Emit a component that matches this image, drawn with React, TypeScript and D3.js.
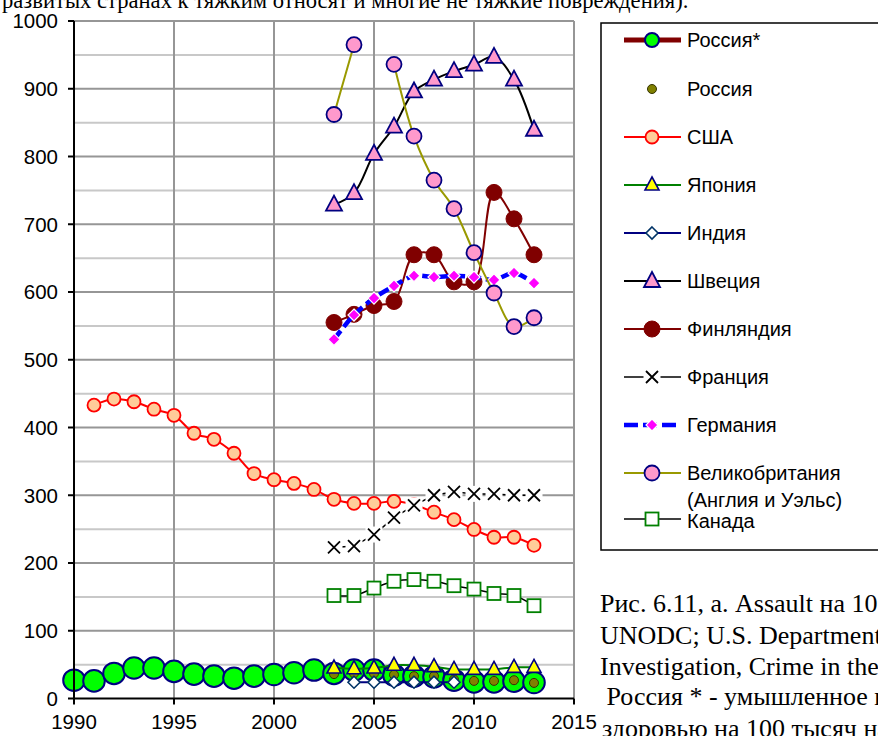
import React from "react";
import * as d3 from "d3";

const xTicks = [1990, 1995, 2000, 2005, 2010, 2015];
const yTicks = [0, 100, 200, 300, 400, 500, 600, 700, 800, 900, 1000];

const russiaStarYears = d3.range(1990, 2014);
const russiaStar = [27, 26, 37, 45, 45, 40, 36, 33, 30, 33, 35.5, 38, 42, 37, 42, 42, 34.5, 33, 32, 27, 24.6, 24.6, 25.6, 23.6];

const russiaYears = d3.range(2003, 2014);
const russia = [36, 37, 37, 35, 33, 33, 28, 26, 26, 27, 23];

const usaYears = d3.range(1991, 2014);
const usa = [433, 442, 438, 427, 418, 391.5, 382.5, 362, 332, 323, 317.5, 308.6, 294, 288, 288, 291, 286, 275, 264, 249.5, 238, 238, 226];

const japanYears = d3.range(2003, 2014);
const japan = [45, 44, 45, 49, 49, 47, 43, 43, 43, 46, 46];

const indiaYears = d3.range(2004, 2010);
const india = [24, 24, 24, 24, 24, 24];

const swedenYears = d3.range(2003, 2014);
const sweden = [729, 746, 804, 844, 896, 913.5, 926, 935.5, 947, 913.5, 839.5];

const finlandYears = d3.range(2003, 2014);
const finland = [555, 567, 580, 586, 655, 655, 615, 615, 747, 708, 655];

const franceYears = d3.range(2003, 2014);
const france = [223, 225, 242, 267, 285, 300, 305, 302, 302, 300, 300];

const germanyYears = d3.range(2003, 2014);
const germany = [530, 566, 591, 609, 624, 622, 624, 622, 618, 628, 613];

const ukYears = d3.range(2003, 2014);
const uk: (number | null)[] = [862, 965, null, 936, 830, 765, 723, 658, 598.5, 549, 562];

const canadaYears = d3.range(2003, 2014);
const canada = [152, 152, 163, 173, 175.5, 173, 166.5, 161.5, 155, 152, 137];

const legendLabels = ["Россия*", "Россия", "США", "Япония", "Индия", "Швеция", "Финляндия", "Франция", "Германия", "Великобритания", "Канада"];

const topText = "развитых странах к тяжким относят и многие не тяжкие повреждения).";
const captionLines = [
  "Рис. 6.11, а. Assault на 100 тысяч населения. Источники:",
  "UNODC; U.S. Department of Justice — Federal Bureau of",
  "Investigation, Crime in the United States",
  " Россия * - умышленное причинение тяжкого вреда",
  "здоровью на 100 тысяч населения",
];

const x = d3.scaleLinear().domain([1990, 2015]).range([74, 574]);
const y = d3.scaleLinear().domain([0, 1000]).range([698.5, 21]);

type Pt = [number, number | null];
const zip = (ys: number[], vs: (number | null)[]): Pt[] => ys.map((yr, i) => [yr, vs[i]]);

const lineGen = d3
  .line<Pt>()
  .defined((d) => d[1] !== null)
  .x((d) => x(d[0]))
  .y((d) => y(d[1] as number))
  .curve(d3.curveCatmullRom.alpha(0.5));

const straight = d3
  .line<Pt>()
  .defined((d) => d[1] !== null)
  .x((d) => x(d[0]))
  .y((d) => y(d[1] as number));

type MarkerKind = "bigcircle" | "dot" | "circleUSA" | "triY" | "diamondW" | "triP" | "circleF" | "cross" | "diamondM" | "circleUK" | "square";

function Marker({ kind, cx, cy, legend }: { kind: MarkerKind; cx: number; cy: number; legend?: boolean }) {
  switch (kind) {
    case "bigcircle":
      return <circle cx={cx} cy={cy} r={legend ? 7 : 10.8} fill="#00FF00" stroke="#000080" strokeWidth={2} />;
    case "dot":
      return <circle cx={cx} cy={cy} r={4.5} fill="#808000" stroke="#333300" strokeWidth={1} />;
    case "circleUSA":
      return <circle cx={cx} cy={cy} r={6.5} fill="#FFCC99" stroke="#FF0000" strokeWidth={1.8} />;
    case "triY":
      return (
        <path
          d={`M${cx},${cy - 8} L${cx + 7},${cy + 5} L${cx - 7},${cy + 5} Z`}
          fill="#FFFF00"
          stroke="#000080"
          strokeWidth={1.6}
        />
      );
    case "diamondW":
      return (
        <path
          d={`M${cx},${cy - 6} L${cx + 6},${cy} L${cx},${cy + 6} L${cx - 6},${cy} Z`}
          fill="#FFFFFF"
          stroke="#003366"
          strokeWidth={1.6}
        />
      );
    case "triP":
      return (
        <path
          d={`M${cx},${cy - 9} L${cx + 8},${cy + 6} L${cx - 8},${cy + 6} Z`}
          fill="#FF99CC"
          stroke="#000080"
          strokeWidth={1.8}
        />
      );
    case "circleF":
      return <circle cx={cx} cy={cy} r={8} fill="#800000" stroke="#800000" strokeWidth={1} />;
    case "cross":
      return (
        <g>
          <rect x={cx - 8.5} y={cy - 8} width={17} height={16} fill="#FFFFFF" />
          <path d={`M${cx - 6},${cy - 6} L${cx + 6},${cy + 6} M${cx + 6},${cy - 6} L${cx - 6},${cy + 6}`} stroke="#000000" strokeWidth={1.8} />
        </g>
      );
    case "diamondM":
      return (
        <path
          d={`M${cx},${cy - 6} L${cx + 6},${cy} L${cx},${cy + 6} L${cx - 6},${cy} Z`}
          fill="#FF00FF"
          stroke="#FFFFFF"
          strokeWidth={1.2}
        />
      );
    case "circleUK":
      return <circle cx={cx} cy={cy} r={7.5} fill="#FF99CC" stroke="#000080" strokeWidth={1.8} />;
    case "square":
      return <rect x={cx - 6.5} y={cy - 6.5} width={13} height={13} fill="#FFFFFF" stroke="#008000" strokeWidth={1.8} />;
  }
  return null;
}

type Series = {
  name: string;
  data: Pt[];
  color: string;
  width: number;
  dash?: string;
  marker: MarkerKind;
  noLine?: boolean;
  smooth?: boolean;
};

const series: Series[] = [
  { name: legendLabels[0], data: zip(russiaStarYears, russiaStar), color: "#800000", width: 5, marker: "bigcircle" },
  { name: legendLabels[1], data: zip(russiaYears, russia), color: "none", width: 0, marker: "dot", noLine: true },
  { name: legendLabels[2], data: zip(usaYears, usa), color: "#FF0000", width: 2, marker: "circleUSA", smooth: true },
  { name: legendLabels[3], data: zip(japanYears, japan), color: "#008000", width: 2, marker: "triY", smooth: true },
  { name: legendLabels[4], data: zip(indiaYears, india), color: "#000080", width: 2, marker: "diamondW" },
  { name: legendLabels[5], data: zip(swedenYears, sweden), color: "#000000", width: 2, marker: "triP", smooth: true },
  { name: legendLabels[6], data: zip(finlandYears, finland), color: "#800000", width: 2, marker: "circleF", smooth: true },
  { name: legendLabels[7], data: zip(franceYears, france), color: "#000000", width: 1.5, marker: "cross" },
  { name: legendLabels[8], data: zip(germanyYears, germany), color: "#0000FF", width: 4.5, dash: "11,5", marker: "diamondM", smooth: true },
  { name: legendLabels[9], data: zip(ukYears, uk), color: "#999900", width: 2, marker: "circleUK", smooth: true },
  { name: legendLabels[10], data: zip(canadaYears, canada), color: "#000000", width: 1.5, marker: "square", smooth: true },
];

const legendY = [40, 89, 137, 185, 233, 281, 329, 377, 425, 473, 521];

export default function App() {
  const minor = d3.range(50, 1000, 100);
  const fontAxis = "'Liberation Sans', Arial, sans-serif";
  const fontSerif = "'Liberation Serif', 'Times New Roman', serif";
  return (
    <svg
      width={878}
      height={736}
      style={{ position: "absolute", left: 0, top: 0, background: "#fff" }}
      viewBox="0 0 878 736"
    >
      <rect x={0} y={0} width={878} height={736} fill="#fff" />
      <text x={2} y={8} fontFamily={fontSerif} fontSize={22.6} fill="#000">
        {topText}
      </text>

      {/* grid */}
      {minor.map((v) => (
        <line key={"mn" + v} x1={x(1990)} x2={x(2015)} y1={y(v)} y2={y(v)} stroke="#C8C8C8" strokeWidth={2} />
      ))}
      {yTicks.slice(1).map((v) => (
        <line key={"mj" + v} x1={x(1990)} x2={x(2015)} y1={y(v)} y2={y(v)} stroke="#969696" strokeWidth={2} />
      ))}
      {xTicks.slice(1).map((v) => (
        <line key={"vx" + v} x1={x(v)} x2={x(v)} y1={y(0)} y2={y(1000)} stroke="#969696" strokeWidth={2} />
      ))}

      {/* series */}
      {series.map((s, i) => (
        <g key={"s" + i}>
          {!s.noLine && (
            <path
              d={(s.smooth ? lineGen : straight)(s.data) || ""}
              fill="none"
              stroke={s.color}
              strokeWidth={s.width}
              strokeDasharray={s.dash}
            />
          )}
          {s.data
            .filter((d) => d[1] !== null)
            .map((d, j) => (
              <Marker key={j} kind={s.marker} cx={x(d[0])} cy={y(d[1] as number)} />
            ))}
        </g>
      ))}

      {/* axes */}
      <line x1={x(1990)} x2={x(1990)} y1={y(0) + 1} y2={y(1000)} stroke="#000" strokeWidth={2} />
      <line x1={x(1990) - 1} x2={x(2015)} y1={y(0)} y2={y(0)} stroke="#000" strokeWidth={2} />
      {yTicks.map((v) => (
        <g key={"yt" + v}>
          <line x1={x(1990) - 6} x2={x(1990)} y1={y(v)} y2={y(v)} stroke="#000" strokeWidth={2} />
          <text x={58} y={y(v)} dy="0.36em" textAnchor="end" fontFamily={fontAxis} fontSize={20.5} fill="#000">
            {v}
          </text>
        </g>
      ))}
      {xTicks.map((v) => (
        <g key={"xt" + v}>
          <line x1={x(v)} x2={x(v)} y1={y(0)} y2={y(0) + 6} stroke="#000" strokeWidth={2} />
          <text x={x(v)} y={729} textAnchor="middle" fontFamily={fontAxis} fontSize={20.5} fill="#000">
            {v}
          </text>
        </g>
      ))}

      {/* legend */}
      <rect x={601} y={23} width={300} height={527} fill="#fff" stroke="#000" strokeWidth={1.5} />
      {series.map((s, i) => {
        const ly = i === 10 ? 519 : legendY[i];
        return (
          <g key={"lg" + i}>
            {!s.noLine && (
              <line
                x1={624}
                x2={681}
                y1={ly}
                y2={ly}
                stroke={s.color}
                strokeWidth={s.width}
                strokeDasharray={s.dash ? "14,5" : undefined}
              />
            )}
            <Marker kind={s.marker} cx={652} cy={ly} legend />
            <text x={687} y={legendY[i]} dy="0.36em" fontFamily={fontAxis} fontSize={20} fill="#000">
              {s.name}
            </text>
          </g>
        );
      })}
      <text x={687} y={500} dy="0.36em" fontFamily={fontAxis} fontSize={20} fill="#000">
        (Англия и Уэльс)
      </text>

      {/* caption */}
      {captionLines.map((t, i) => (
        <text
          key={"cap" + i}
          x={i === 4 ? 602 : 600}
          y={[612, 644, 675, 705, 737][i]}
          fontFamily={fontSerif}
          fontSize={26}
          fill="#000"
          style={{ whiteSpace: "pre" }}
        >
          {t}
        </text>
      ))}
    </svg>
  );
}
